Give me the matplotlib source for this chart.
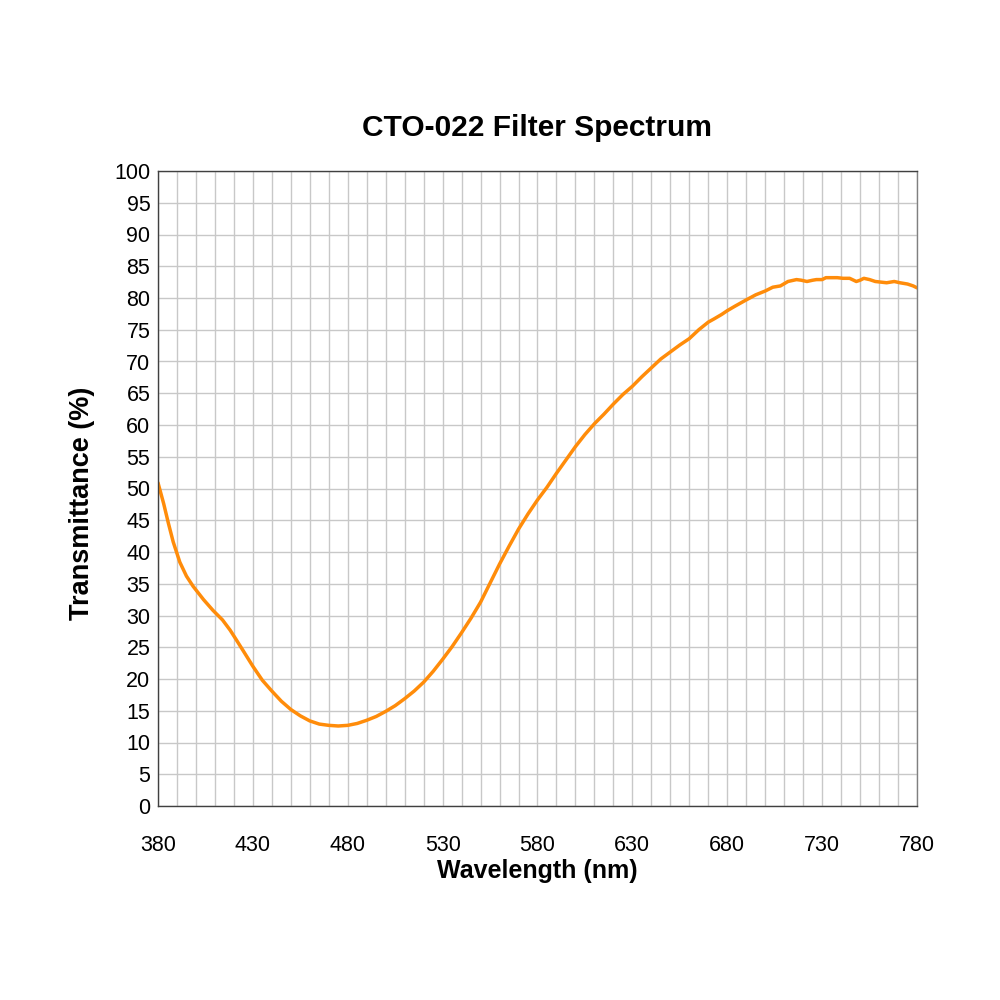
import matplotlib
matplotlib.use("Agg")
import matplotlib.pyplot as plt

wavelength = [380, 383, 385.5, 388, 391.5, 395, 398.5, 404, 409, 414, 418, 421, 425, 430, 435,
              440, 445, 450, 455, 460, 465, 470, 475, 480, 485, 490, 495, 500, 505, 510,
              515, 520, 525, 530, 535, 540, 545, 550, 555, 560, 565, 570, 575, 580, 585,
              590, 595, 600, 605, 610, 615, 620, 625, 630, 635, 640, 645, 650, 655, 660,
              665, 670, 673, 677, 680, 684, 690, 695, 700, 704, 708, 712, 716.5, 719, 722,
              725, 727, 730, 732, 735, 738, 741, 744.5, 748, 750, 752, 755, 758, 761, 764,
              768, 771, 775, 778, 780]
transmittance = [50.9, 47.6, 44.5, 41.6, 38.4, 36.2, 34.6, 32.5, 30.8, 29.3, 27.7, 26.3, 24.4, 22.0, 19.8,
                 18.1, 16.5, 15.2, 14.2, 13.4, 12.9, 12.7, 12.6, 12.7, 13.0, 13.5, 14.1, 14.9, 15.8, 16.9,
                 18.1, 19.5, 21.2, 23.1, 25.1, 27.3, 29.6, 32.1, 35.1, 38.1, 40.9, 43.6, 46.0, 48.2, 50.2,
                 52.4, 54.5, 56.6, 58.5, 60.2, 61.7, 63.3, 64.8, 66.1, 67.6, 69.0, 70.4, 71.5, 72.6, 73.6,
                 75.0, 76.2, 76.7, 77.4, 78.0, 78.7, 79.7, 80.5, 81.1, 81.7, 81.9, 82.6, 82.9, 82.8, 82.6,
                 82.8, 82.9, 82.9, 83.2, 83.2, 83.2, 83.1, 83.1, 82.6, 82.8, 83.1, 82.9, 82.6, 82.5, 82.4,
                 82.6, 82.4, 82.2, 81.9, 81.6]

xticks = [380, 430, 480, 530, 580, 630, 680, 730, 780]
yticks = list(range(0, 101, 5))

plt.rcParams['font.family'] = ['Liberation Sans', 'DejaVu Sans']

fig = plt.figure(figsize=(10, 10), dpi=100)
ax = fig.add_axes([0.158, 0.194, 0.759, 0.635])

ax.set_xlim(380, 780)
ax.set_ylim(0, 100)
ax.set_xticks(xticks)
ax.set_xticks(range(380, 781, 10), minor=True)
ax.set_yticks(yticks)
ax.grid(True, which='both', axis='x', color='#c8c8c8', linewidth=1.0)
ax.grid(True, which='major', axis='y', color='#c8c8c8', linewidth=1.0)
ax.set_axisbelow(True)
ax.tick_params(which='both', length=0)
ax.tick_params(axis='y', pad=5.5, labelsize=15.5)
ax.tick_params(axis='x', pad=21, labelsize=15.5)

ax.plot(wavelength, transmittance, color='#FF8C0A', linewidth=2.5,
        solid_capstyle='round', solid_joinstyle='round')

for s in ['left', 'bottom', 'top']:
    ax.spines[s].set_color('#404040')
    ax.spines[s].set_linewidth(1.0)
ax.spines['right'].set_color('#808080')
ax.spines['right'].set_linewidth(1.0)

ax.set_title('CTO-022 Filter Spectrum', fontsize=21.5, fontweight='bold', pad=25)
ax.set_xlabel('Wavelength (nm)', fontsize=18, fontweight='bold', labelpad=2)
ax.set_ylabel('Transmittance (%)', fontsize=19.5, fontweight='bold')
ax.yaxis.set_label_coords(-0.0835, 0.476)

fig.savefig('out.png', dpi=100, facecolor='white')
